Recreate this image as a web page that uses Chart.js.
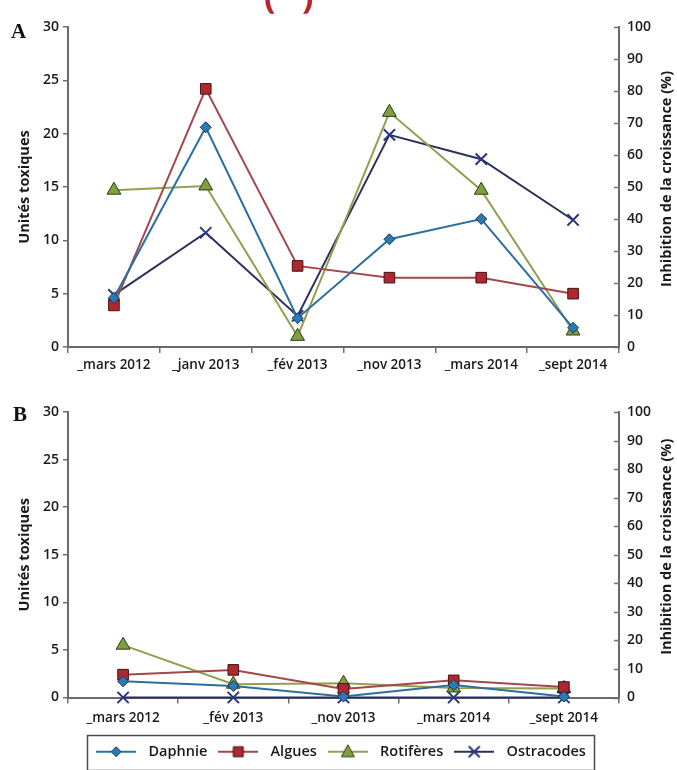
<!DOCTYPE html>
<html><head><meta charset="utf-8">
<script src="https://cdn.jsdelivr.net/npm/chart.js@4/dist/chart.umd.min.js"></script>
<style>
html,body{margin:0;padding:0;background:#fff;width:677px;height:770px;overflow:hidden;position:relative;font-family:"Open Sans",sans-serif}
.wrap{position:absolute;left:0}
.panel{position:absolute;font-family:"Liberation Serif",serif;font-weight:bold;font-size:21px;color:#111;line-height:1}
#cap{position:absolute;left:264px;top:-22px;font-size:34px;font-weight:bold;color:#b5252a;line-height:1;white-space:pre}
</style></head><body>
<div id="cap">(   )</div>
<div class="wrap" style="top:0;width:677px;height:380px"><canvas id="cA" width="677" height="380"></canvas></div>
<div class="wrap" style="top:380px;width:677px;height:390px"><canvas id="cB" width="677" height="390"></canvas></div>
<div class="panel" style="left:11px;top:21px">A</div>
<div class="panel" style="left:13px;top:404px">B</div>
<script>
// ---- data ----
const seriesNames = ['Daphnie', 'Algues', 'Rotifères', 'Ostracodes'];
const catA = ['_mars 2012', '_janv 2013', '_fév 2013', '_nov 2013', '_mars 2014', '_sept 2014'];
const daphA = [4.6, 20.6, 2.7, 10.1, 12.0, 1.8];
const alguesA = [3.9, 24.2, 7.6, 6.5, 6.5, 5.0];
const rotA = [14.7, 15.1, 1.0, 22.0, 14.7, 1.5];
const ostraA = [16.3, 35.7, 9.7, 66.3, 58.7, 39.7];   // % inhibition (right axis)
const catB = ['_mars 2012', '_fév 2013', '_nov 2013', '_mars 2014', '_sept 2014'];
const daphB = [1.7, 1.2, 0.1, 1.3, 0.1];
const alguesB = [2.4, 2.9, 0.9, 1.8, 1.1];
const rotB = [5.5, 1.4, 1.5, 1.0, 0.95];
const ostraB = [0, 0, 0, 0, 0];                        // % inhibition (right axis)
const leftAxis = {min: 0, max: 30, step: 5};
const rightAxis = {min: 0, max: 100, step: 10};
const leftTitle = 'Unités toxiques';
const rightTitle = 'Inhibition de la croissance (%)';

// ---- styles ----
const FONT = "'Open Sans', sans-serif";
const styles = [
  {line: '#2c6f9e', style: 'rectRot', r: 5.5, fill: '#2a7ab5', border: '#1c3550', bw: 1},
  {line: '#a3484a', style: 'rect', r: 7.5, fill: '#b22630', border: '#3d1515', bw: 1},
  {line: '#8fa050', style: 'triangle', r: 8, fill: '#7ea13e', border: '#2e3a1a', bw: 1},
  {line: '#2b2f5e', style: 'crossRot', r: 8, fill: '#2b3480', border: '#2b3480', bw: 2}
];

function legendImage(s) {
  const c = document.createElement('canvas');
  c.width = 40; c.height = 18;
  const x = c.getContext('2d');
  x.strokeStyle = s.line; x.lineWidth = 2;
  x.beginPath(); x.moveTo(0, 9); x.lineTo(40, 9); x.stroke();
  const cx = 20, cy = 9;
  x.fillStyle = s.fill; x.strokeStyle = s.border; x.lineWidth = s.bw;
  x.beginPath();
  if (s.style === 'rectRot') {
    const r = 5; x.moveTo(cx - r, cy); x.lineTo(cx, cy - r); x.lineTo(cx + r, cy); x.lineTo(cx, cy + r); x.closePath(); x.fill(); x.stroke();
  } else if (s.style === 'rect') {
    x.rect(cx - 5, cy - 5, 10, 10); x.fill(); x.stroke();
  } else if (s.style === 'triangle') {
    x.moveTo(cx, cy - 7); x.lineTo(cx + 6.5, cy + 5); x.lineTo(cx - 6.5, cy + 5); x.closePath(); x.fill(); x.stroke();
  } else {
    x.moveTo(cx - 5.5, cy - 5.5); x.lineTo(cx + 5.5, cy + 5.5); x.moveTo(cx + 5.5, cy - 5.5); x.lineTo(cx - 5.5, cy + 5.5); x.stroke();
  }
  return c;
}
const legendImgs = styles.map(legendImage);

function makeDatasets(vals) {
  return vals.map((v, i) => ({
    label: seriesNames[i],
    data: v,
    yAxisID: i === 3 ? 'y1' : 'y',
    borderColor: styles[i].line,
    borderWidth: 2,
    tension: 0,
    pointStyle: styles[i].style,
    pointRadius: styles[i].r,
    pointHoverRadius: styles[i].r,
    pointBackgroundColor: styles[i].fill,
    pointBorderColor: styles[i].border,
    pointBorderWidth: styles[i].bw,
    clip: false
  }));
}

const extras = {
  id: 'extras',
  afterDraw(chart, args, opts) {
    const {ctx, chartArea} = chart;
    ctx.save();
    ctx.font = "bold 14.5px " + FONT;
    ctx.fillStyle = '#1a1a1a';
    ctx.textAlign = 'center';
    ctx.textBaseline = 'middle';
    const cy = (chartArea.top + chartArea.bottom) / 2;
    [[opts.lx, leftTitle, opts.ldy || 0], [opts.rx, rightTitle, opts.rdy || 0]].forEach(([x, t, dy]) => {
      ctx.save(); ctx.translate(x, cy + dy); ctx.rotate(-Math.PI / 2); ctx.fillText(t, 0, 0); ctx.restore();
    });
    // inward tick marks on right axis
    const y1 = chart.scales.y1;
    ctx.strokeStyle = '#707070'; ctx.lineWidth = 1.5;
    y1.ticks.forEach(t => {
      const py = Math.round(y1.getPixelForValue(t.value)) + 0.5;
      ctx.beginPath(); ctx.moveTo(chartArea.right - 5, py); ctx.lineTo(chartArea.right + 1, py); ctx.stroke();
    });
    if (opts.legendBox && chart.legend && chart.legend.legendHitBoxes && chart.legend.legendHitBoxes.length) {
      const hb = chart.legend.legendHitBoxes;
      const l = hb[0].left - 4, r = hb[hb.length - 1].left + hb[hb.length - 1].width + 8;
      const mid = hb[0].top + hb[0].height / 2;
      ctx.strokeStyle = '#4a4a4a'; ctx.lineWidth = 1.5;
      ctx.strokeRect(Math.round(l) + 0.5, Math.round(mid - 17) + 0.5, Math.round(r - l), 35);
    }
    ctx.restore();
  }
};

function makeOptions(cats, xHeight, padTop, padBottom, labelPad, showLegend) {
  return {
    responsive: false,
    animation: false,
    events: [],
    layout: {padding: {top: padTop, bottom: padBottom, left: 0, right: 0}},
    plugins: {
      legend: {
        display: showLegend,
        position: 'bottom',
        labels: {
          usePointStyle: true,
          pointStyleWidth: 50,
          boxHeight: 14,
          padding: 6,
          color: '#1a1a1a',
          font: {family: FONT, size: 14.5, weight: '600'},
          generateLabels: (chart) => seriesNames.map((n, i) => ({
            text: n, pointStyle: legendImgs[i], fillStyle: styles[i].fill, strokeStyle: styles[i].border,
            lineWidth: 0, hidden: false, datasetIndex: i, fontColor: '#1a1a1a'
          }))
        }
      },
      tooltip: {enabled: false},
      extras: {lx: 25, rx: 667, ldy: 0, rdy: -8, legendBox: showLegend}
    },
    scales: {
      x: {
        type: 'category',
        offset: true,
        grid: {offset: true, drawOnChartArea: false, drawTicks: true, tickLength: 6, color: '#707070', lineWidth: 1.5},
        border: {display: true, color: '#6a6a6a', width: 2},
        ticks: {color: '#1a1a1a', font: {family: FONT, size: 13.5, weight: '600'}, padding: labelPad, maxRotation: 0, autoSkip: false},
        afterFit: (s) => { s.height = xHeight; }
      },
      y: {
        position: 'left',
        min: leftAxis.min, max: leftAxis.max,
        grid: {drawOnChartArea: false, tickLength: 5, color: '#707070', lineWidth: 1.5},
        border: {display: true, color: '#6a6a6a', width: 2},
        ticks: {stepSize: leftAxis.step, color: '#1a1a1a', font: {family: FONT, size: 14, weight: '600'}, padding: 4},
        afterFit: (s) => { s.width = 68; }
      },
      y1: {
        position: 'right',
        min: rightAxis.min, max: rightAxis.max,
        grid: {drawOnChartArea: false, drawTicks: false, tickLength: 0},
        border: {display: true, color: '#6a6a6a', width: 2},
        ticks: {stepSize: rightAxis.step, color: '#1a1a1a', font: {family: FONT, size: 14, weight: '600'}, padding: 8},
        afterFit: (s) => { s.width = 58; }
      }
    }
  };
}

new Chart(document.getElementById('cA'), {
  type: 'line',
  data: {labels: catA, datasets: makeDatasets([daphA, alguesA, rotA, ostraA])},
  options: makeOptions(catA, 33, 27, 0, 4, false),
  plugins: [extras]
});
new Chart(document.getElementById('cB'), {
  type: 'line',
  data: {labels: catB, datasets: makeDatasets([daphB, alguesB, rotB, ostraB])},
  options: makeOptions(catB, 41, 32, 1, 7, true),
  plugins: [extras]
});
</script>
</body></html>
